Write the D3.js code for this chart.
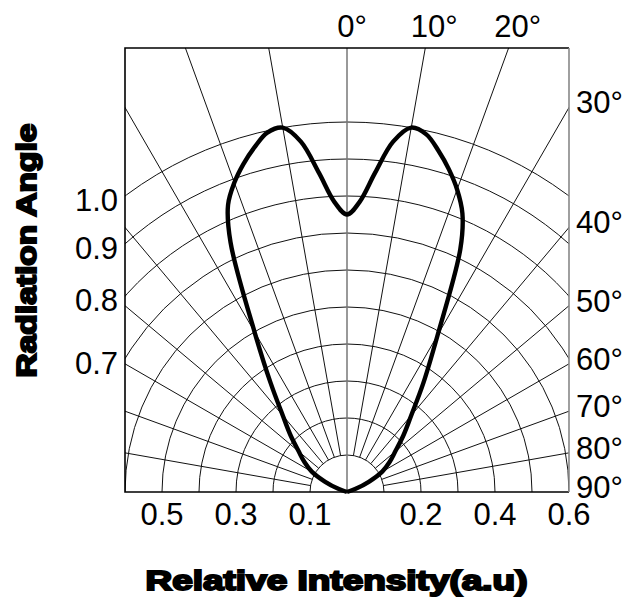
<!DOCTYPE html>
<html><head><meta charset="utf-8">
<script src="https://cdn.jsdelivr.net/npm/d3@7"></script>
<style>body{margin:0;background:#fff}svg{display:block}</style>
</head><body>
<script>
// ---- data ----
const angles =    [-90, -80, -75, -70, -65, -60, -55, -50, -45, -40, -35, -30, -25, -22.5, -20, -17.5, -15, -12.5, -10, -7.5, -5, -2.5, 0,
                   2.5, 5, 7.5, 10, 12.5, 15, 17.5, 20, 22.5, 25, 30, 35, 40, 45, 50, 55, 60, 65, 70, 75, 80, 90];
const intensity = [0, 0, 0, 0.025, 0.065, 0.11, 0.14, 0.17, 0.215, 0.27, 0.36, 0.50, 0.745, 0.84, 0.89, 0.93, 0.965, 0.995, 1.0, 0.955, 0.865, 0.785, 0.75,
                   0.785, 0.865, 0.955, 1.0, 0.99, 0.955, 0.915, 0.87, 0.815, 0.725, 0.49, 0.36, 0.27, 0.215, 0.17, 0.14, 0.11, 0.065, 0.025, 0, 0, 0];
const ringValues = [0.1, 0.2, 0.3, 0.4, 0.5, 0.6, 0.7, 0.8, 0.9, 1.0];
const spokeAngles = [-80, -70, -60, -50, -40, -30, -20, -10, 10, 20, 30, 40, 50, 60, 70, 80];
const topAngleLabels = [0, 10, 20];
const rightAngleLabels = [30, 40, 50, 60, 70, 80, 90];
const leftValueLabels = [1.0, 0.9, 0.8, 0.7];
const bottomValueLabels = [0.5, 0.3, 0.1, 0.2, 0.4, 0.6];

// ---- layout ----
const W = 636, H = 597;
const cx = 347, cy = 492, R = 370;
const halfW = 0.6 * R, topY = cy - 1.2 * R;
const r = d3.scaleLinear().domain([0, 1]).range([0, R]);
const rad = d => d * Math.PI / 180;
const labelFont = "'Liberation Sans', Arial, sans-serif";

const svg = d3.select("body").append("svg").attr("width", W).attr("height", H);
svg.append("rect").attr("width", W).attr("height", H).attr("fill", "#fff");

svg.append("clipPath").attr("id", "plotclip").append("rect")
  .attr("x", cx - halfW).attr("y", topY).attr("width", 2 * halfW).attr("height", cy - topY);

const g = svg.append("g").attr("clip-path", "url(#plotclip)");
const gc = g.append("g").attr("transform", `translate(${cx},${cy})`);

// rings
gc.selectAll("circle.ring").data(ringValues).join("circle")
  .attr("class", "ring").attr("r", d => r(d))
  .attr("fill", "none").attr("stroke", "#111").attr("stroke-width", 1);

// spokes
gc.selectAll("line.spoke").data(spokeAngles).join("line")
  .attr("class", "spoke")
  .attr("x1", d => r(0.1) * Math.sin(rad(d))).attr("y1", d => -r(0.1) * Math.cos(rad(d)))
  .attr("x2", d => r(2) * Math.sin(rad(d))).attr("y2", d => -r(2) * Math.cos(rad(d)))
  .attr("stroke", "#111").attr("stroke-width", 1);
gc.append("line").attr("x1", 0).attr("y1", 0).attr("x2", 0).attr("y2", -r(2))
  .attr("stroke", "#777").attr("stroke-width", 1.5);

// frame
const fx0 = cx - halfW, fx1 = cx + halfW;
svg.append("path").attr("d", `M${fx1},${topY}H${fx0}V${cy}H${fx1}`)
  .attr("fill", "none").attr("stroke", "#000").attr("stroke-width", 1.6);
svg.append("line").attr("x1", fx1).attr("y1", topY).attr("x2", fx1).attr("y2", cy)
  .attr("stroke", "#888").attr("stroke-width", 1.6);

// intensity curve
const pts = angles.map((a, i) => ({a, v: intensity[i]}));
const line = d3.lineRadial().angle(d => rad(d.a)).radius(d => r(d.v))
  .curve(d3.curveCatmullRom.alpha(0.5));
svg.append("path").attr("transform", `translate(${cx},${cy})`)
  .attr("d", line(pts)).attr("fill", "none").attr("stroke", "#000")
  .attr("stroke-width", 4.4).attr("stroke-linejoin", "round");

// top angle labels
svg.selectAll("text.top").data(topAngleLabels).join("text")
  .attr("class", "top")
  .attr("x", d => cx + (cy - topY) * Math.tan(rad(d)) + (d === 0 ? 5 : 9))
  .attr("y", 37).attr("text-anchor", "middle")
  .attr("font-family", labelFont).attr("font-size", 31)
  .text(d => d + "°");

// right angle labels
svg.selectAll("text.right").data(rightAngleLabels).join("text")
  .attr("class", "right")
  .attr("x", fx1 + 7)
  .attr("y", d => (d >= 90 ? cy : cy - halfW / Math.tan(rad(d))) + 6)
  .attr("font-family", labelFont).attr("font-size", 31)
  .text(d => d + "°");

// left value labels
svg.selectAll("text.left").data(leftValueLabels).join("text")
  .attr("class", "left")
  .attr("x", fx0 - 7)
  .attr("y", d => cy - Math.sqrt(r(d) ** 2 - halfW ** 2) + 15)
  .attr("text-anchor", "end")
  .attr("font-family", labelFont).attr("font-size", 31)
  .text(d => d.toFixed(1));

// bottom value labels
svg.selectAll("text.bottom").data(bottomValueLabels).join("text")
  .attr("class", "bottom")
  .attr("x", d => cx + (Math.round(d * 10) % 2 === 1 ? -1 : 1) * r(d))
  .attr("y", 525).attr("text-anchor", "middle")
  .attr("font-family", labelFont).attr("font-size", 31)
  .text(d => d.toFixed(1));

// axis titles
svg.append("text")
  .attr("x", 336.5).attr("y", 590).attr("text-anchor", "middle")
  .attr("font-family", labelFont).attr("font-weight", "bold").attr("font-size", 28)
  .attr("stroke", "#000").attr("stroke-width", 2)
  .attr("textLength", 382).attr("lengthAdjust", "spacingAndGlyphs")
  .text("Relative Intensity(a.u)");
svg.append("text")
  .attr("transform", "translate(36,250.5) rotate(-90)").attr("text-anchor", "middle")
  .attr("font-family", labelFont).attr("font-weight", "bold").attr("font-size", 28)
  .attr("stroke", "#000").attr("stroke-width", 2)
  .attr("textLength", 254).attr("lengthAdjust", "spacingAndGlyphs")
  .text("Radiation Angle");
</script>
</body></html>
